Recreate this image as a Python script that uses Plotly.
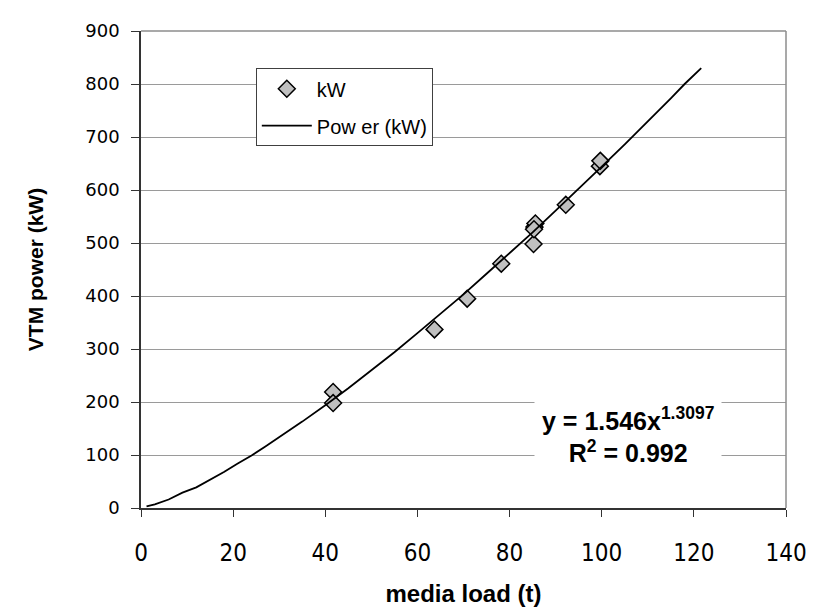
import plotly.graph_objects as go

# Measured data points (media load t, VTM power kW)
load_t = [41.7, 41.7, 63.7, 70.8, 78.2, 85.2, 85.4, 85.6, 85.3, 92.2, 99.6, 99.7]
power_kw = [219, 198, 337, 395, 461, 498, 530, 537, 526, 572, 645, 655]

# Trendline "Power (kW)"
trend_x = [1.2, 3, 6, 9, 12, 15, 18, 21, 24, 27, 30, 35, 40, 45, 50, 55, 60, 65,
           70, 75, 80, 85, 90, 95, 100, 105, 110, 115, 118, 121.6]
trend_y = [3, 7, 16, 29, 39, 53, 68, 84, 99, 116, 133, 163, 194, 226, 260, 294,
           330, 366, 403, 442, 481, 520, 561, 602, 644, 686, 729, 773, 800, 830]

x_ticks = [0, 20, 40, 60, 80, 100, 120, 140]
y_ticks = [0, 100, 200, 300, 400, 500, 600, 700, 800, 900]

eq_text = "y = 1.546x<sup>1.3097</sup><br>R<sup>2</sup> = 0.992"

fig = go.Figure()
fig.add_trace(go.Scatter(
    x=load_t, y=power_kw, mode="markers", name="kW", legendgroup="a",
    marker=dict(symbol="diamond", size=13, color="#c0c0c0",
                line=dict(color="#000000", width=1.5)),
))
fig.add_trace(go.Scatter(
    x=trend_x, y=trend_y, mode="lines", name="Pow er (kW)", legendgroup="b",
    line=dict(color="#000000", width=1.8),
))

fig.add_annotation(
    x=0.755, y=0.153, xref="paper", yref="paper",
    xanchor="center", yanchor="middle",
    text=eq_text, showarrow=False, align="center",
    bgcolor="#ffffff", borderpad=7,
    font=dict(family="Liberation Sans, Arial", size=25, color="#000000", weight="bold"),
)

fig.update_layout(
    width=814, height=607,
    margin=dict(l=133, r=36, t=19, b=101),
    paper_bgcolor="#ffffff", plot_bgcolor="#ffffff",
    showlegend=True,
    legend=dict(
        x=0.178, y=0.922, xanchor="left", yanchor="top",
        bgcolor="#ffffff", bordercolor="#404040", borderwidth=1,
        font=dict(family="Liberation Sans, Arial", size=20, color="#000000"),
        tracegroupgap=8, itemwidth=50,
    ),
    xaxis=dict(
        range=[0, 140], tickvals=x_ticks, ticktext=[str(v) for v in x_ticks],
        showgrid=False, zeroline=False,
        showline=True, linecolor="#333333", linewidth=1.5, mirror=False,
        ticks="outside", ticklen=7, tickcolor="#333333", tickwidth=1,
        ticklabelstandoff=15,
        tickfont=dict(family="Liberation Sans Narrow, DejaVu Sans Condensed, Arial", size=24, color="#000000"),
        title=dict(text="media load (t)", standoff=20,
                   font=dict(family="Liberation Sans, Arial", size=24, color="#000000", weight="bold")),
    ),
    yaxis=dict(
        range=[0, 900], tickvals=y_ticks, ticktext=[str(v) for v in y_ticks],
        showgrid=True, gridcolor="#9a9a9a", gridwidth=1, zeroline=False,
        showline=True, linecolor="#333333", linewidth=1.5,
        ticks="outside", ticklen=8, tickcolor="#333333", tickwidth=1,
        ticklabelstandoff=8,
        tickfont=dict(family="DejaVu Sans, Arial", size=18, color="#000000"),
        title=dict(text="VTM power (kW)", standoff=36,
                   font=dict(family="Liberation Sans, Arial", size=21, color="#000000", weight="bold")),
    ),
    shapes=[
        dict(type="line", xref="paper", yref="paper", x0=1, x1=1, y0=0, y1=1,
             line=dict(color="#8c8c8c", width=1.5)),
        dict(type="line", xref="paper", yref="paper", x0=0, x1=1, y0=1, y1=1,
             line=dict(color="#8c8c8c", width=1.5)),
    ],
)

fig.write_html("out.html")
